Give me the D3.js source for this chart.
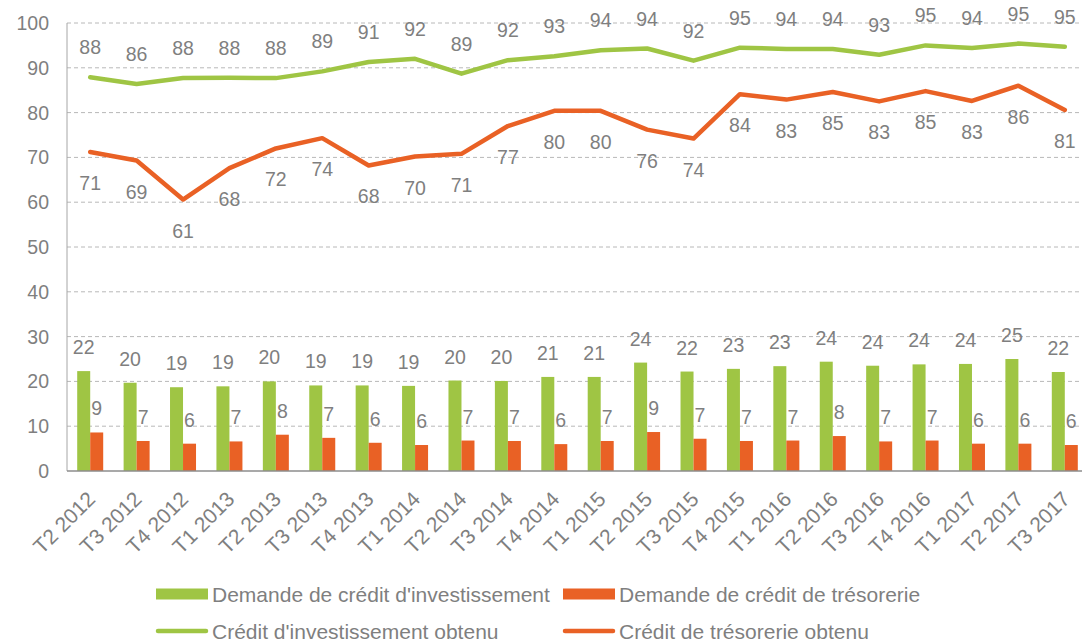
<!DOCTYPE html>
<html>
<head>
<meta charset="utf-8">
<script src="https://cdn.jsdelivr.net/npm/d3@7"></script>
<style>
  body { margin: 0; background: #fff; }
  text { font-family: "Liberation Sans", Arial, sans-serif; fill: #7f7f7f; }
</style>
</head>
<body>
<div id="chart"></div>
<script>
const width = 1082;
const height = 643;

// data
const quarters = ["T2 2012", "T3 2012", "T4 2012", "T1 2013", "T2 2013", "T3 2013", "T4 2013",
  "T1 2014", "T2 2014", "T3 2014", "T4 2014", "T1 2015", "T2 2015", "T3 2015", "T4 2015",
  "T1 2016", "T2 2016", "T3 2016", "T4 2016", "T1 2017", "T2 2017", "T3 2017"];

const demandeInvest = [22.3, 19.7, 18.7, 18.9, 20.0, 19.1, 19.1, 19.0, 20.2, 20.1, 21.0, 21.0,
  24.2, 22.2, 22.8, 23.4, 24.4, 23.5, 23.8, 23.9, 25.0, 22.1];
const demandeTreso = [8.6, 6.7, 6.1, 6.6, 8.1, 7.4, 6.3, 5.8, 6.8, 6.7, 6.0, 6.7,
  8.7, 7.2, 6.7, 6.8, 7.8, 6.6, 6.8, 6.1, 6.1, 5.8];
const obtenuInvest = [87.9, 86.4, 87.7, 87.8, 87.7, 89.2, 91.3, 92.0, 88.7, 91.7, 92.6, 93.9,
  94.3, 91.6, 94.5, 94.2, 94.2, 92.9, 95.0, 94.4, 95.4, 94.7];
const obtenuTreso = [71.2, 69.3, 60.6, 67.6, 72.0, 74.3, 68.2, 70.2, 70.8, 77.0, 80.4, 80.4,
  76.2, 74.2, 84.1, 82.9, 84.6, 82.5, 84.8, 82.6, 86.0, 80.6];

const yTicks = [0, 10, 20, 30, 40, 50, 60, 70, 80, 90, 100];

const green = "#9fc544";
const orange = "#e96125";

const svg = d3.select("#chart")
  .append("svg")
  .attr("width", width)
  .attr("height", height);

const x = d3.scaleBand()
  .domain(quarters)
  .range([67, 1088]);

const y = d3.scaleLinear()
  .domain([0, 100])
  .range([471, 23]);

const barW = 13;

// grid
svg.append("g")
  .selectAll("line")
  .data(yTicks.filter(d => d > 0))
  .join("line")
  .attr("x1", 67)
  .attr("x2", 1088)
  .attr("y1", d => y(d))
  .attr("y2", d => y(d))
  .attr("stroke", "#b8b8b8")
  .attr("stroke-width", 1)
  .attr("stroke-dasharray", "4,3");

// y labels
svg.append("g")
  .selectAll("text")
  .data(yTicks)
  .join("text")
  .attr("x", 49)
  .attr("y", d => y(d))
  .attr("dy", "0.36em")
  .attr("text-anchor", "end")
  .style("font-size", "19.5px")
  .text(d => d);

// bars
const cx = d => x(d) + x.bandwidth() / 2;

svg.append("g")
  .selectAll("rect")
  .data(quarters)
  .join("rect")
  .attr("x", d => cx(d) - barW)
  .attr("y", (d, i) => y(demandeInvest[i]))
  .attr("width", barW)
  .attr("height", (d, i) => y(0) - y(demandeInvest[i]))
  .attr("fill", green);

svg.append("g")
  .selectAll("rect")
  .data(quarters)
  .join("rect")
  .attr("x", d => cx(d))
  .attr("y", (d, i) => y(demandeTreso[i]))
  .attr("width", barW)
  .attr("height", (d, i) => y(0) - y(demandeTreso[i]))
  .attr("fill", orange);

// axes lines
svg.append("line")
  .attr("x1", 67).attr("x2", 67)
  .attr("y1", y(100)).attr("y2", y(0))
  .attr("stroke", "#a6a6a6");
svg.append("line")
  .attr("x1", 67).attr("x2", 1088)
  .attr("y1", y(0)).attr("y2", y(0))
  .attr("stroke", "#8c8c8c")
  .attr("stroke-width", 1.5);

// lines
const line = d3.line()
  .x((d, i) => cx(quarters[i]))
  .y(d => y(d));

svg.append("path")
  .datum(obtenuInvest)
  .attr("d", line)
  .attr("fill", "none")
  .attr("stroke", green)
  .attr("stroke-width", 4.5)
  .attr("stroke-linejoin", "round")
  .attr("stroke-linecap", "round");

svg.append("path")
  .datum(obtenuTreso)
  .attr("d", line)
  .attr("fill", "none")
  .attr("stroke", orange)
  .attr("stroke-width", 4.5)
  .attr("stroke-linejoin", "round")
  .attr("stroke-linecap", "round");

// labels
const labelSize = "19.5px";

svg.append("g")
  .selectAll("text")
  .data(obtenuInvest)
  .join("text")
  .attr("x", (d, i) => cx(quarters[i]))
  .attr("y", d => y(d) - 23)
  .attr("text-anchor", "middle")
  .style("font-size", labelSize)
  .text(d => Math.round(d));

svg.append("g")
  .selectAll("text")
  .data(obtenuTreso)
  .join("text")
  .attr("x", (d, i) => cx(quarters[i]))
  .attr("y", d => y(d) + 38)
  .attr("text-anchor", "middle")
  .style("font-size", labelSize)
  .text(d => Math.round(d));

svg.append("g")
  .selectAll("text")
  .data(demandeInvest)
  .join("text")
  .attr("x", (d, i) => cx(quarters[i]) - barW / 2)
  .attr("y", d => y(d) - 17)
  .attr("text-anchor", "middle")
  .style("font-size", labelSize)
  .text(d => Math.round(d));

svg.append("g")
  .selectAll("text")
  .data(demandeTreso)
  .join("text")
  .attr("x", (d, i) => cx(quarters[i]) + barW / 2)
  .attr("y", d => y(d) - 17)
  .attr("text-anchor", "middle")
  .style("font-size", labelSize)
  .text(d => Math.round(d));

// x labels
svg.append("g")
  .selectAll("text")
  .data(quarters)
  .join("text")
  .attr("transform", d => `translate(${cx(d) - 4},${y(0) + 19}) rotate(-45)`)
  .attr("dy", "0.7em")
  .attr("text-anchor", "end")
  .style("font-size", "21px")
  .text(d => d);

// legend
const legendData = [
  { name: "Demande de crédit d'investissement", color: green, type: "bar", x: 156, y: 594 },
  { name: "Demande de crédit de trésorerie", color: orange, type: "bar", x: 563, y: 594 },
  { name: "Crédit d'investissement obtenu", color: green, type: "line", x: 156, y: 631 },
  { name: "Crédit de trésorerie obtenu", color: orange, type: "line", x: 563, y: 631 }
];

const legend = svg.append("g").attr("class", "legend");

legendData.forEach(d => {
  if (d.type === "bar") {
    legend.append("rect")
      .attr("x", d.x)
      .attr("y", d.y - 5.5)
      .attr("width", 52)
      .attr("height", 11)
      .attr("fill", d.color);
  } else {
    legend.append("line")
      .attr("x1", d.x + 2)
      .attr("x2", d.x + 50)
      .attr("y1", d.y)
      .attr("y2", d.y)
      .attr("stroke", d.color)
      .attr("stroke-width", 4.5)
      .attr("stroke-linecap", "round");
  }
  legend.append("text")
    .attr("x", d.x + 56)
    .attr("y", d.y)
    .attr("dy", "0.36em")
    .style("font-size", "21px")
    .text(d.name);
});
</script>
</body>
</html>
